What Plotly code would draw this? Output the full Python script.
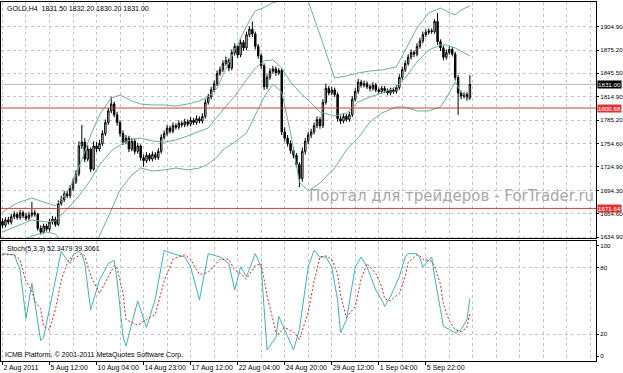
import plotly.graph_objects as go

# ---------------- data ----------------
OPEN = [1655,1650,1657,1654,1661,1664,1660,1666,1662,1659,
        1663,1666,1664,1646,1641,1649,1645,1654,1658,1651,
        1678,1683,1690,1688,1697,1706,1716,1752,1757,1735,
        1748,1722,1752,1748,1755,1768,1782,1797,1806,1792,
        1782,1768,1757,1762,1748,1758,1745,1752,1737,1733,
        1740,1735,1741,1737,1745,1763,1768,1775,1771,1778,
        1776,1781,1779,1783,1780,1785,1782,1787,1784,1790,
        1808,1815,1824,1832,1845,1850,1858,1862,1852,1872,
        1880,1869,1885,1878,1895,1902,1896,1880,1868,1855,
        1828,1840,1848,1851,1846,1849,1770,1762,1755,1746,
        1740,1728,1710,1745,1758,1766,1770,1778,1786,1778,
        1808,1826,1820,1824,1818,1787,1784,1790,1786,1792,
        1812,1822,1834,1830,1832,1828,1826,1830,1824,1822,
        1826,1823,1820,1824,1822,1827,1840,1850,1858,1866,
        1872,1870,1880,1887,1895,1898,1900,1899,1912,1886,
        1878,1866,1872,1876,1870,1840,1820,1816,1818,1814]
CLOSE = [1650,1657,1654,1661,1664,1660,1666,1662,1659,1663,
         1666,1664,1646,1641,1649,1645,1654,1658,1651,1678,
         1683,1690,1688,1697,1706,1716,1752,1757,1735,1748,
         1722,1752,1748,1755,1768,1782,1797,1806,1792,1782,
         1768,1757,1762,1748,1758,1745,1752,1737,1733,1740,
         1735,1741,1737,1745,1763,1768,1775,1771,1778,1776,
         1781,1779,1783,1780,1785,1782,1787,1784,1790,1808,
         1815,1824,1832,1845,1850,1858,1862,1852,1872,1880,
         1869,1885,1878,1895,1902,1896,1880,1868,1855,1828,
         1840,1848,1851,1846,1849,1770,1762,1755,1746,1740,
         1728,1710,1745,1758,1766,1770,1778,1786,1778,1808,
         1826,1820,1824,1818,1787,1784,1790,1786,1792,1812,
         1822,1834,1830,1832,1828,1826,1830,1824,1822,1826,
         1823,1820,1824,1822,1827,1840,1850,1858,1866,1872,
         1870,1880,1887,1895,1898,1900,1899,1912,1886,1878,
         1866,1872,1876,1870,1840,1820,1816,1818,1814,1831]
HIGH = [1659,1660,1661,1665,1668,1667,1670,1669,1666,1667,
        1680,1670,1666,1650,1652,1652,1658,1662,1661,1682,
        1688,1694,1694,1702,1710,1721,1758,1779,1762,1753,
        1750,1758,1757,1760,1772,1786,1801,1815,1809,1796,
        1785,1772,1766,1765,1762,1761,1756,1754,1741,1744,
        1743,1745,1744,1749,1767,1772,1779,1778,1782,1781,
        1785,1784,1787,1786,1789,1788,1791,1790,1794,1812,
        1819,1828,1836,1849,1854,1862,1867,1865,1876,1884,
        1883,1889,1888,1899,1906,1912,1899,1883,1871,1858,
        1844,1852,1855,1854,1852,1852,1776,1766,1759,1750,
        1743,1731,1750,1762,1770,1774,1782,1790,1789,1812,
        1832,1829,1828,1827,1821,1791,1794,1793,1796,1816,
        1826,1838,1837,1836,1835,1831,1834,1833,1827,1829,
        1829,1826,1827,1827,1830,1844,1854,1862,1870,1876,
        1875,1884,1891,1899,1902,1903,1903,1915,1923,1889,
        1881,1876,1880,1879,1873,1843,1823,1821,1821,1843]
LOW = [1646,1647,1651,1651,1658,1657,1657,1659,1656,1656,
       1660,1661,1643,1638,1639,1642,1642,1651,1648,1649,
       1675,1680,1685,1685,1694,1703,1713,1748,1731,1732,
       1718,1720,1744,1745,1752,1765,1779,1794,1789,1778,
       1764,1753,1754,1744,1745,1741,1742,1733,1725,1730,
       1732,1732,1734,1734,1742,1760,1765,1768,1768,1773,
       1773,1776,1776,1777,1777,1779,1779,1781,1781,1787,
       1805,1812,1821,1829,1842,1847,1855,1848,1849,1868,
       1865,1866,1874,1875,1892,1892,1876,1864,1851,1824,
       1825,1837,1845,1842,1843,1766,1758,1751,1742,1736,
       1724,1699,1706,1741,1754,1762,1767,1775,1774,1775,
       1805,1817,1817,1815,1783,1780,1781,1783,1783,1789,
       1809,1819,1827,1827,1825,1822,1823,1821,1819,1819,
       1820,1817,1817,1819,1819,1824,1837,1847,1855,1863,
       1866,1867,1877,1884,1892,1895,1896,1896,1882,1874,
       1862,1863,1869,1867,1836,1792,1812,1813,1810,1811]

BAND_IDX = [0,5,10,15,18,20,24,27,30,33,37,40,44,47,51,55,59,63,67,70,73,75,79,83,86,
            89,92,95,98,101,104,108,113,117,121,125,129,134,137,141,145,149,151,154,156,159]
UPPER = [1667.0,1678.6,1685.0,1678.6,1674.8,1682.5,1705.6,1733.9,1766.0,1791.8,
         1813.6,1817.5,1809.8,1805.9,1804.6,1804.6,1803.3,1805.9,1809.8,1814.9,
         1826.5,1843.2,1875.3,1906.0,1925.5,1930.0,1936.0,1940.0,1943.0,1942.0,
         1938.0,1894.6,1839.3,1841.9,1845.8,1848.3,1849.6,1853.5,1875.3,1903.6,
         1922.9,1929.3,1925.3,1920.3,1926.8,1931.9]
MIDDLE = [1641.3,1649.0,1656.8,1654.2,1655.5,1663.2,1678.6,1692.8,1708.2,1727.6,
          1745.5,1753.2,1760.9,1762.2,1758.3,1757.0,1759.6,1764.8,1771.2,1775.0,
          1789.2,1798.2,1816.2,1836.8,1852.2,1861.2,1862.5,1852.2,1834.2,1821.3,
          1811.0,1795.6,1790.5,1794.3,1808.4,1814.9,1820.0,1827.8,1839.3,1859.9,
          1875.3,1881.8,1881.8,1877.9,1874.0,1867.6]
LOWER = [1618.2,1627.2,1636.2,1641.3,1638.8,1631.0,1620.0,1612.0,1618.0,1636.0,
         1669.6,1695.3,1714.6,1723.6,1719.7,1721.1,1723.6,1721.1,1723.6,1728.8,
         1737.8,1746.8,1757.0,1768.6,1791.8,1814.9,1831.6,1821.3,1768.6,1705.6,
         1694.0,1704.3,1723.6,1746.8,1762.2,1782.8,1794.3,1802.0,1802.0,1796.9,
         1796.9,1802.0,1813.6,1834.2,1821.3,1811.0]

STOCH_IDX = [0,4,6,8,10,11,13,14,16,18,20,22,23,24,26,27,28,30,33,36,38,39,41,42,46,
             49,52,55,58,62,64,67,70,74,77,79,81,83,86,88,90,93,94,96,99,101,104,106,
             108,110,112,114,115,117,120,122,124,127,129,130,132,135,137,138,141,142,
             143,146,147,149,150,152,154,156,158,159]
STOCH_K = [93,92,78,34,66,49,14,17,42,69,95,87,84,92,95,93,84,42,69,84,87,69,18,9,50,
           26,52,96,93,90,81,51,93,90,84,60,81,72,93,81,5.5,17,36,24,5.5,24,81,96,
           90,90,81,51,21,33,81,90,81,60,51,45,54,72,90,93,93,89,
           81,90,72,42,27,24,21,24,33,52.35]
STOCH_D = [92,92,87,68,59,50,43,27,24,42,69,84,89,88,91,93,91,73,57,72,82,80,57,33,28,
           33,38,68,88,92,88,74,76,88,88,78,75,70,82,84,55,22,20,26,22,15,40,68,
           90,91,88,75,55,35,45,70,84,75,63,52,50,57,72,85,92,91,
           88,86,82,65,47,32,24,22,26,39.31]

DATE_TICK_IDX = [0,16,32,48,64,80,96,112,128,144]
DATE_TICK_TEXT = ["2 Aug 2011","5 Aug 12:00","10 Aug 04:00","14 Aug 23:00","17 Aug 12:00",
                  "22 Aug 04:00","24 Aug 20:00","29 Aug 12:00","1 Sep 04:00","5 Sep 22:00"]
GRID_IDX = [8,24,40,56,72,88,104,120,136,152,160,168,176,184,192,200]
PRICE_TICKS = [1634.90,1664.60,1694.30,1724.90,1754.60,1785.20,1814.90,1845.50,1875.20,1904.90]
STOCH_TICKS = [0,20,80,100]
STOCH_GRID = [20,80]
LEVELS = [1800.68,1671.64]
LAST_PRICE = 1831.00

FONT = "Liberation Sans, Arial, sans-serif"
BAND_COLOR = "#68b48e"
GRID_COLOR = "#c4c4c4"
AX_FONT = 6.2

idx = list(range(len(CLOSE)))

fig = go.Figure()
fig.add_trace(go.Candlestick(
    x=idx, open=OPEN, high=HIGH, low=LOW, close=CLOSE,
    increasing=dict(line=dict(color="black", width=1), fillcolor="white"),
    decreasing=dict(line=dict(color="black", width=1), fillcolor="black"),
    whiskerwidth=0, xaxis="x", yaxis="y", hoverinfo="skip", showlegend=False))
for band in (UPPER, MIDDLE, LOWER):
    fig.add_trace(go.Scatter(x=BAND_IDX, y=band, mode="lines",
                             line=dict(color=BAND_COLOR, width=1),
                             xaxis="x", yaxis="y", hoverinfo="skip", showlegend=False))
fig.add_trace(go.Scatter(x=STOCH_IDX, y=STOCH_K, mode="lines",
                         line=dict(color="#3cb4b4", width=1),
                         xaxis="x2", yaxis="y2", hoverinfo="skip", showlegend=False))
fig.add_trace(go.Scatter(x=STOCH_IDX, y=STOCH_D, mode="lines",
                         line=dict(color="#e02020", width=1, dash="2px,2px"),
                         xaxis="x2", yaxis="y2", hoverinfo="skip", showlegend=False))

XR = [-0.5, 201.9]
axis_common = dict(showline=True, mirror=True, linecolor="black", linewidth=1,
                   zeroline=False, automargin=False)
fig.update_layout(
    width=623, height=373,
    margin=dict(l=1, r=27, t=2, b=12),
    paper_bgcolor="white", plot_bgcolor="white",
    font=dict(family=FONT, size=7, color="black"),
    showlegend=False,
    xaxis=dict(domain=[0, 1], anchor="y", range=XR, showticklabels=False,
               tickvals=DATE_TICK_IDX, ticks="", showgrid=True, gridcolor=GRID_COLOR,
               griddash="dot", gridwidth=1,
               minor=dict(tickvals=GRID_IDX, showgrid=True, gridcolor=GRID_COLOR,
                          griddash="dot", ticks=""),
               rangeslider=dict(visible=False), **axis_common),
    xaxis2=dict(domain=[0, 1], anchor="y2", range=XR, matches="x",
                tickvals=DATE_TICK_IDX, ticktext=DATE_TICK_TEXT, ticks="outside",
                ticklen=3, tickcolor="black", ticklabelposition="outside right",
                tickangle=0, tickfont=dict(size=7), showgrid=True, gridcolor=GRID_COLOR,
                griddash="dot",
                minor=dict(tickvals=GRID_IDX, showgrid=True, gridcolor=GRID_COLOR,
                           griddash="dot", ticks=""),
                **axis_common),
    yaxis=dict(domain=[0.3426, 1], anchor="x", side="right", range=[1633.6, 1937.0],
               tickvals=PRICE_TICKS, ticktext=["%.2f" % v for v in PRICE_TICKS],
               ticks="outside", ticklen=2, tickcolor="black", tickfont=dict(size=AX_FONT),
               showgrid=True, gridcolor=GRID_COLOR, griddash="dot", **axis_common),
    yaxis2=dict(domain=[0, 0.3343], anchor="x2", side="right", range=[-4.5, 104.5],
                tickvals=STOCH_TICKS, ticktext=[str(v) for v in STOCH_TICKS],
                ticks="outside", ticklen=2, tickcolor="black", tickfont=dict(size=AX_FONT),
                showgrid=False,
                minor=dict(tickvals=STOCH_GRID, showgrid=True, gridcolor=GRID_COLOR,
                           griddash="dot", ticks=""),
                **axis_common),
)

# horizontal level lines
fig.add_shape(type="line", xref="x domain", yref="y", x0=0, x1=1, y0=LAST_PRICE, y1=LAST_PRICE,
              line=dict(color="#bdbdbd", width=1), layer="below")
for lv in LEVELS:
    fig.add_shape(type="line", xref="x domain", yref="y", x0=0, x1=1, y0=lv, y1=lv,
                  line=dict(color="#d23c3c", width=1))

# price tags on the axis
fig.add_annotation(xref="paper", yref="y", x=1, y=LAST_PRICE, xanchor="left", xshift=1,
                   text="%.2f" % LAST_PRICE, showarrow=False, bgcolor="black",
                   font=dict(color="white", size=AX_FONT), borderpad=0)
for lv in LEVELS:
    fig.add_annotation(xref="paper", yref="y", x=1, y=lv, xanchor="left", xshift=1,
                       text="%.2f" % lv, showarrow=False, bgcolor="#e03434",
                       font=dict(color="white", size=AX_FONT), borderpad=0)

# texts
fig.add_annotation(xref="paper", yref="paper", x=0.006, y=0.983, xanchor="left", yanchor="middle",
                   text="GOLD,H4  1831.50 1832.20 1830.20 1831.00", showarrow=False,
                   font=dict(size=7))
fig.add_annotation(xref="paper", yref="paper", x=0.006, y=0.312, xanchor="left", yanchor="middle",
                   text="Stoch(5,3,3) 52.3479 39.3061", showarrow=False, font=dict(size=7))
fig.add_annotation(xref="paper", yref="paper", x=0.004, y=0.0167, xanchor="left", yanchor="middle",
                   text="ICMB Platform, © 2001-2011 MetaQuotes Software Corp.", showarrow=False,
                   font=dict(size=7))
fig.add_annotation(xref="paper", yref="paper", x=0.514, y=0.4596, xanchor="left", yanchor="middle",
                   text="Портал для трейдеров - ForTrader.ru", showarrow=False,
                   font=dict(family="DejaVu Sans, sans-serif", size=15, color="#a8a8a8"))

fig.write_html("out.html")
